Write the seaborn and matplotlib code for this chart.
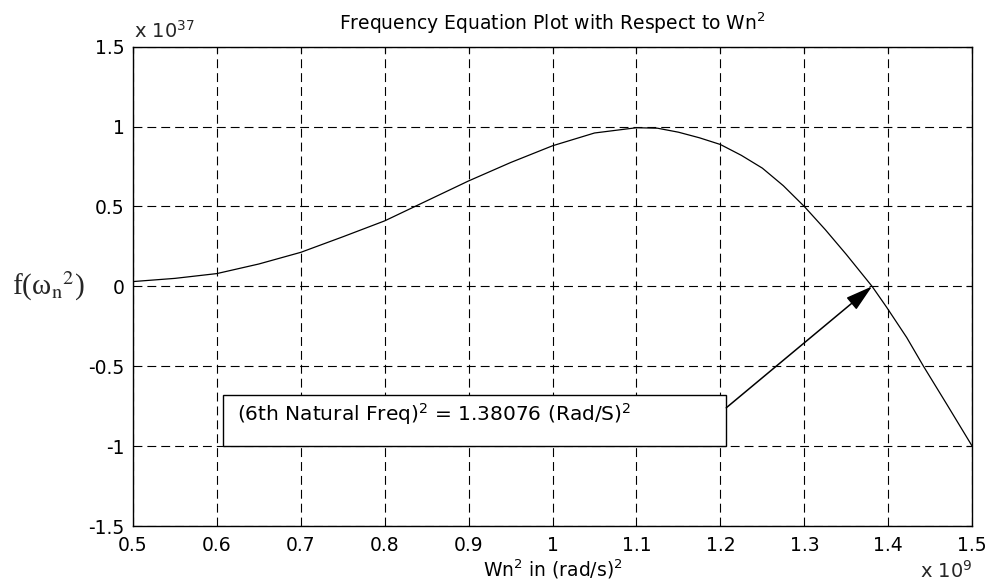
import matplotlib
matplotlib.use("Agg")
import matplotlib.pyplot as plt
from matplotlib.patches import Rectangle
import seaborn as sns
import pandas as pd

# data (x in units of 1e9 (rad/s)^2, y in units of 1e37)
wn2 = [0.50, 0.55, 0.60, 0.65, 0.70, 0.75, 0.80, 0.85, 0.90, 0.95, 1.00,
       1.05, 1.10, 1.125, 1.15, 1.175, 1.20, 1.225, 1.25, 1.275, 1.30,
       1.325, 1.35, 1.38076, 1.398, 1.422, 1.442, 1.47, 1.50]
f_val = [0.03, 0.05, 0.08, 0.14, 0.213, 0.31, 0.41, 0.535, 0.66, 0.775, 0.88,
         0.96, 0.993, 0.99, 0.965, 0.93, 0.888, 0.82, 0.74, 0.63, 0.50,
         0.355, 0.20, 0.0, -0.13, -0.32, -0.50, -0.74, -1.0]
xticks = [0.5, 0.6, 0.7, 0.8, 0.9, 1.0, 1.1, 1.2, 1.3, 1.4, 1.5]
xtick_labels = ["0.5", "0.6", "0.7", "0.8", "0.9", "1", "1.1", "1.2", "1.3", "1.4", "1.5"]
yticks = [-1.5, -1.0, -0.5, 0.0, 0.5, 1.0, 1.5]
ytick_labels = ["-1.5", "-1", "-0.5", "0", "0.5", "1", "1.5"]
root_x = 1.38076
root_label = "(6th Natural Freq)$^2$ = 1.38076 (Rad/S)$^2$"

df = pd.DataFrame({"wn2": wn2, "f": f_val})

sns.set_theme(style="white")
plt.rcParams["font.family"] = ["DejaVu Sans"]
plt.rcParams["mathtext.fontset"] = "dejavusans"

fig = plt.figure(figsize=(9.92, 5.84), dpi=100)
ax = fig.add_axes([0.134, 0.0993, 0.846, 0.8207])

sns.lineplot(data=df, x="wn2", y="f", ax=ax, color="black", linewidth=0.9,
             sort=False, zorder=4)

ax.set_xlim(0.5, 1.5)
ax.set_ylim(-1.5, 1.5)
ax.set_xticks(xticks)
ax.set_xticklabels(xtick_labels)
ax.set_yticks(yticks)
ax.set_yticklabels(ytick_labels)
ax.tick_params(direction="in", length=4, width=0.8, labelsize=13.5, color="black",
               labelcolor="black", top=True, right=True)
ax.tick_params(axis="x", pad=7)
ax.tick_params(axis="y", pad=6)
for s in ax.spines.values():
    s.set_visible(True)
    s.set_color("black")
    s.set_linewidth(1.0)

ax.grid(True, color="black", linestyle=(0, (8, 4.5)), linewidth=0.8)
ax.set_axisbelow(True)

ax.set_xlabel("Wn$^2$ in (rad/s)$^2$", fontsize=13.5, color="black", labelpad=2)
ax.set_ylabel("")
ax.set_title("Frequency Equation Plot with Respect to Wn$^2$", fontsize=13.5,
             color="black", pad=12)

# offset labels
fig.text(0.135, 0.936, r"x 10$^{37}$", fontsize=14, ha="left", va="baseline")
fig.text(0.98, 0.004, r"x 10$^{9}$", fontsize=14, ha="right", va="bottom")

# y label in serif
fig.text(0.012, 0.51, "f(ω$_{\\mathrm{n}}$$^{\\mathrm{2}}$)", fontsize=21,
         family=["Liberation Serif", "DejaVu Serif"], ha="left", va="center",
         math_fontfamily="stix")

# annotation box
ax.add_patch(Rectangle((0.607, -1.0), 0.600, 0.32, facecolor="white",
                       edgecolor="black", linewidth=1.0, zorder=3))
ax.text(0.6245, -0.80, root_label, fontsize=14.5, ha="left", va="center",
        color="black", zorder=5)
ax.annotate("", xy=(root_x, 0.0), xytext=(1.207, -0.76),
            arrowprops=dict(arrowstyle="-|>,head_length=1.4,head_width=0.4",
                            color="black", lw=1.1, shrinkA=0, shrinkB=0),
            zorder=5)

fig.savefig("out.png", dpi=100, facecolor="white")
